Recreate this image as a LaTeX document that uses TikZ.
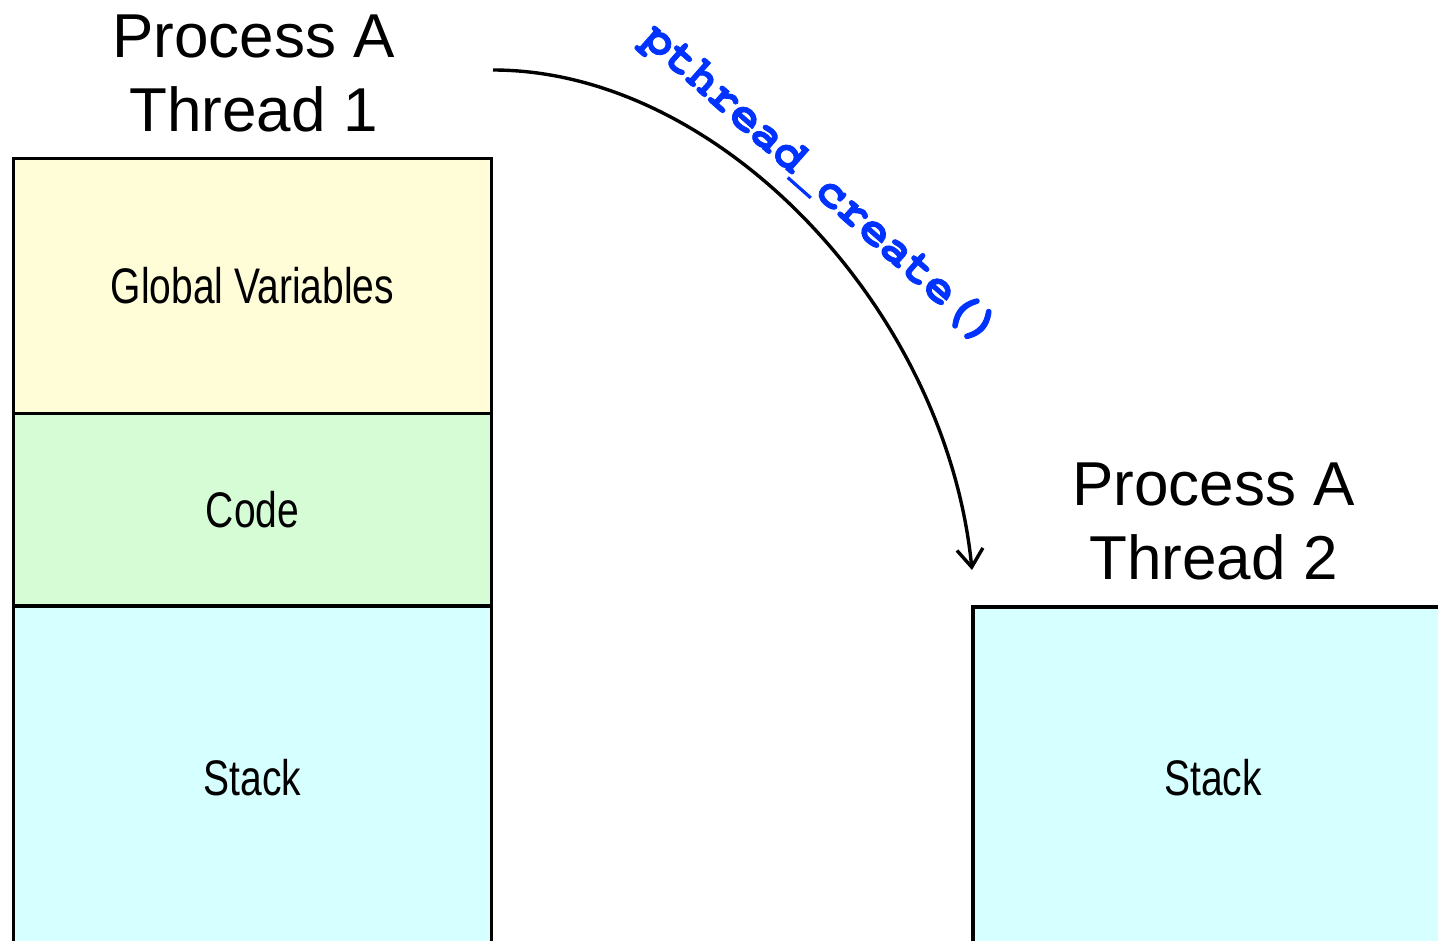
\documentclass[tikz,border=0pt]{standalone}
\usepackage{fontspec}
\setmainfont{Liberation Sans}
\newfontfamily\narrowfont{Liberation Sans}[FakeStretch=0.78]
\newfontfamily\codefont{texgyrecursor}[Extension=.otf, UprightFont=*-regular, BoldFont=*-bold, BoldFeatures={FakeBold=1.6}]
\usetikzlibrary{arrows.meta}
\definecolor{globalfill}{RGB}{255,253,215}
\definecolor{codefill}{RGB}{214,252,214}
\definecolor{stackfill}{RGB}{214,255,255}
\definecolor{callblue}{RGB}{0,51,255}
\tikzset{
  segment/.style={draw, line width=3.2pt, inner sep=0pt, minimum width=478pt,
    font=\narrowfont\fontsize{50}{58}\selectfont},
  title/.style={align=center, font=\fontsize{62}{74}\selectfont},
}
\begin{document}
\begin{tikzpicture}[x=1pt,y=-1pt,>={Straight Barb[length=18pt,width=26pt]}]
            \clip (0,0) rectangle (1438,940);

            % thread 1 memory
            \node[segment, fill=globalfill, minimum height=255pt] (globals) at (252.5,286) {Global Variables};
            \node[segment, fill=codefill, minimum height=192.5pt] (code) at (252.5,509.75) {Code};
            \node[segment, fill=stackfill, minimum height=344pt] (stack1) at (252.5,778) {Stack};

            % thread 2 memory
            \node[segment, fill=stackfill, minimum width=480pt, minimum height=342pt] (stack2) at (1213,778) {Stack};

            % titles
            \node[title] (title1) at (253.5,73) {Process A\\Thread 1};
            \node[title] (title2) at (1213.5,521) {Process A\\Thread 2};

            % pthread_create
            \coordinate (fork) at (493,70);
            \coordinate (landing) at (972,570);
            \draw[->, line width=3.4pt] (fork) .. controls (720,70) and (946,310) .. (landing);
            \node[rotate=-41.5, text=callblue, font=\codefont\bfseries\fontsize{48}{48}\selectfont] (call) at (820,186) {pthread\_create()};

        \end{tikzpicture}
\end{document}
